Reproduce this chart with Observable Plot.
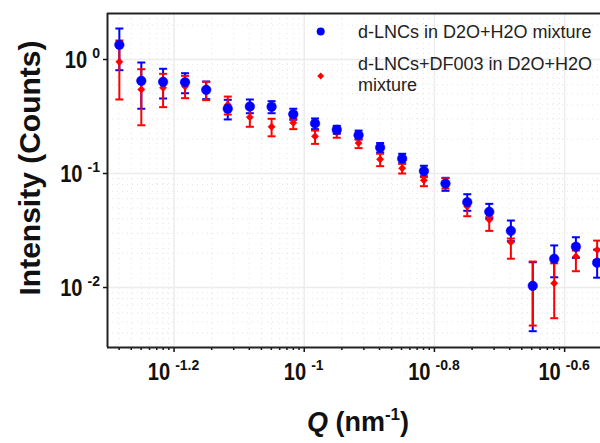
<!DOCTYPE html>
<html><head><meta charset="utf-8">
<script src="https://cdn.jsdelivr.net/npm/d3@7"></script>
<script src="https://cdn.jsdelivr.net/npm/@observablehq/plot@0.6"></script>
<style>
body{margin:0;background:#fff;}
#wrap{position:relative;width:600px;height:443px;overflow:hidden;}
</style></head><body><div id="wrap"></div>
<script>
// Q values (nm^-1)
const q = [0.0520,0.0562,0.0607,0.0656,0.0707,0.0763,0.0825,0.0891,0.0962,0.1039,0.1122,0.1212,0.1308,0.1414,0.1527,0.1648,0.1780,0.1924,0.2077,0.2244,0.2421,0.2614,0.2818];
// d-LNCs in D2O+H2O mixture
const blueI  = [1.346,0.650,0.637,0.632,0.542,0.370,0.387,0.385,0.331,0.275,0.242,0.217,0.169,0.135,0.105,0.0817,0.0560,0.0461,0.0314,0.01035,0.01786,0.0228,0.0165];
const blueHi = [1.87,0.941,0.829,0.758,0.641,0.443,0.446,0.431,0.370,0.304,0.262,0.238,0.185,0.149,0.117,0.0917,0.0658,0.0542,0.0387,0.01667,0.0234,0.0276,0.0215];
const blueLo = [0.806,0.370,0.455,0.506,0.449,0.298,0.338,0.338,0.296,0.245,0.223,0.200,0.153,0.123,0.0946,0.0705,0.0471,0.0401,0.0255,0.00414,0.0123,0.0182,0.0122];
// d-LNCs+DF003 in D2O+H2O mixture
const redI  = [0.954,0.546,0.565,0.580,0.542,0.401,0.312,0.257,0.279,0.212,0.229,0.185,0.1334,0.1113,0.0873,0.0817,0.0514,0.0393,0.0250,0.0104,0.0109,0.0187,0.0214];
const redHi = [1.468,0.822,0.749,0.719,0.637,0.473,0.370,0.302,0.302,0.238,0.247,0.198,0.149,0.1216,0.0929,0.091,0.0580,0.0414,0.0269,0.0169,0.0163,0.0211,0.0258];
const redLo = [0.446,0.265,0.382,0.458,0.440,0.329,0.257,0.212,0.245,0.182,0.206,0.167,0.116,0.100,0.0774,0.0738,0.0422,0.0314,0.0179,0.00464,0.00538,0.0139,0.0173];
// tick exponents (labels are 10^exp)
const xTickExp = [-1.2,-1,-0.8,-0.6];
const yTickExp = [0,-1,-2];
const seriesNames = ["d-LNCs in D2O+H2O mixture","d-LNCs+DF003 in D2O+H2O mixture"];
const xTitle = "Q", xUnit = " (nm", xUnitSup = "-1", yTitle = "Intensity (Counts)";

const FONT = "'Liberation Sans', Arial, sans-serif";
const blueC = "#0000ff", redC = "#ff0000";
const SQX = 0.82; // horizontal squeeze of the big "10"

const xDomain = [Math.pow(10,-1.3022), Math.pow(10,-0.5449)];
const yDomain = [Math.pow(10,-2.526), Math.pow(10,0.4035)];

const xMajor = xTickExp.map(e => Math.pow(10,e));
const yMajor = yTickExp.map(e => Math.pow(10,e));
// Origin-style minor ticks inside each 0.2 interval
const xMinor = [];
for (let a = -1.4; a < -0.5; a += 0.2) {
  for (let k = 2; k <= 10; k++) {
    const v = a + 0.2*Math.log10(k)/Math.log10(11);
    const val = Math.pow(10, v);
    if (val > xDomain[0] && val < xDomain[1]) xMinor.push(val);
  }
}
const yMinor = [];
for (let d = -3; d <= 0; d++) for (let k = 2; k <= 9; k++) {
  const val = k*Math.pow(10,d);
  if (val > yDomain[0] && val < yDomain[1]) yMinor.push(val);
}

const blue = q.map((d,i)=>({q:d, I:blueI[i], lo:blueLo[i], hi:blueHi[i]}));
const red  = q.map((d,i)=>({q:d, I:redI[i], lo:redLo[i], hi:redHi[i]}));
const cap = {draw(ctx){ ctx.moveTo(-4,0); ctx.lineTo(4,0); }};

function errMarks(data, color){
  return [
    Plot.ruleX(data, {x:"q", y1:"lo", y2:"hi", stroke:color, strokeWidth:2}),
    Plot.dot(data, {x:"q", y:"lo", symbol:cap, stroke:color, fill:"none", strokeWidth:2}),
    Plot.dot(data, {x:"q", y:"hi", symbol:cap, stroke:color, fill:"none", strokeWidth:2})
  ];
}

const chart = Plot.plot({
  width:600, height:443,
  marginLeft:107, marginTop:13, marginBottom:96, marginRight:0,
  style:{fontFamily:FONT, background:"white", color:"#111", overflow:"visible"},
  x:{type:"log", domain:xDomain},
  y:{type:"log", domain:yDomain},
  marks:[
    Plot.ruleX(xMinor, {stroke:"#e4e4e4", strokeDasharray:"1,4", strokeWidth:1}),
    Plot.ruleY(yMinor, {stroke:"#e4e4e4", strokeDasharray:"1,4", strokeWidth:1}),
    Plot.ruleX(xMajor, {stroke:"#ececec", strokeWidth:1.5}),
    Plot.ruleY(yMajor, {stroke:"#ececec", strokeWidth:1.5}),
    Plot.axisX({ticks:xMinor, tickSize:3, tickFormat:()=>"", strokeWidth:1.5, label:null}),
    Plot.axisX({ticks:xMajor, tickSize:5, strokeWidth:1.5, tickFormat:()=>"", label:null}),
    Plot.axisY({ticks:yMajor, tickSize:4, strokeWidth:1.5, tickFormat:()=>"", label:null}),
    Plot.ruleX([xDomain[0]], {stroke:"#222", strokeWidth:2}),
    Plot.ruleY([yDomain[0]], {stroke:"#222", strokeWidth:2}),
    Plot.ruleY([yDomain[1]], {stroke:"#222", strokeWidth:2}),
    ...errMarks(blue, blueC),
    ...errMarks(red, redC),
    Plot.dot(red, {x:"q", y:"I", symbol:"diamond2", r:3.3, fill:redC, stroke:redC, strokeWidth:0.5}),
    Plot.dot(blue, {x:"q", y:"I", r:4.8, fill:blueC, stroke:blueC, strokeWidth:0.5})
  ]
});
document.getElementById("wrap").appendChild(chart);
const svg = d3.select(chart.tagName.toLowerCase()==="svg" ? chart : chart.querySelector("svg"));
const sx = chart.scale("x"), sy = chart.scale("y");

// power-of-ten tick labels, placed with Plot's scales
const GAP = 5;
function powLabel(px, baseline, anchor, exp){
  const g = svg.append("g").attr("font-family", FONT).attr("font-weight","bold").attr("fill","#111").attr("text-anchor","start");
  const b = g.append("text").attr("font-size", 24.5).text("10");
  const s = g.append("text").attr("font-size", 14).text(String(exp));
  const wb = b.node().getComputedTextLength()*SQX;
  const ws = s.node().getComputedTextLength();
  const total = wb + GAP + ws;
  const x0 = anchor === "middle" ? px - total/2 : px - total;
  b.attr("transform", `translate(${x0},${baseline}) scale(${SQX},1)`);
  s.attr("x", x0 + wb + GAP).attr("y", baseline - 10);
}
xTickExp.forEach((e,i) => powLabel(sx.apply(xMajor[i]), 380, "middle", e));
yTickExp.forEach((e,i) => powLabel(100, sy.apply(yMajor[i]) + 9, "end", e));

// axis titles
svg.append("text")
  .attr("transform","translate(40,168) rotate(-90)")
  .attr("text-anchor","middle").attr("font-family",FONT).attr("font-weight","bold")
  .attr("font-size",30).attr("fill","#111").text(yTitle);
const xt = svg.append("text").attr("x",358).attr("y",431).attr("text-anchor","middle")
  .attr("font-family",FONT).attr("font-weight","bold").attr("font-size",27).attr("fill","#111");
xt.append("tspan").attr("font-style","italic").text(xTitle);
xt.append("tspan").text(xUnit);
xt.append("tspan").attr("font-size",17).attr("dy",-11).text(xUnitSup);
xt.append("tspan").attr("dy",11).text(")");

// legend
const lg = svg.append("g").attr("font-family",FONT).attr("font-size",18).attr("fill","#222").attr("text-anchor","start");
lg.append("circle").attr("cx",320.7).attr("cy",31.5).attr("r",4).attr("fill",blueC);
lg.append("text").attr("x",358).attr("y",38).text(seriesNames[0]);
lg.append("path").attr("d",d3.symbol(d3.symbolDiamond2, 30)()).attr("transform","translate(320.7,76)").attr("fill",redC);
const words = seriesNames[1].split(" ");
lg.append("text").attr("x",358).attr("y",70).text(words.slice(0,-1).join(" "));
lg.append("text").attr("x",358).attr("y",91).text(words[words.length-1]);
</script></body></html>
